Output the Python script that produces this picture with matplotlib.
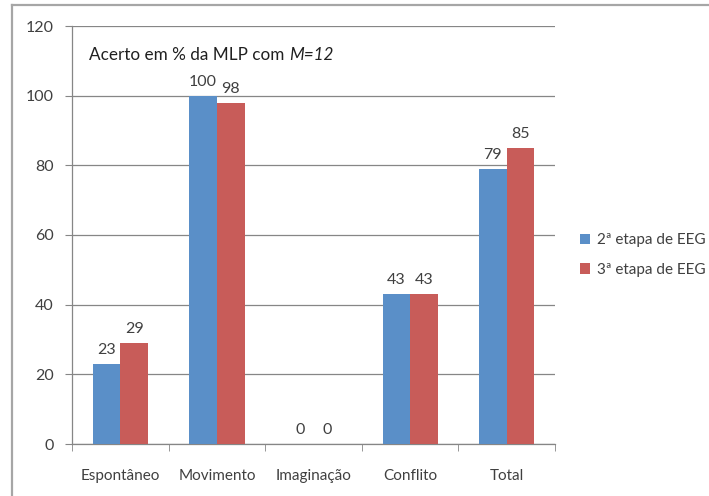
import numpy as np
import matplotlib
matplotlib.use("Agg")
import matplotlib.pyplot as plt
from matplotlib.lines import Line2D

plt.rcParams['font.family'] = ['Lato', 'DejaVu Sans']

# Dados
categorias = ['Espontâneo', 'Movimento', 'Imaginação', 'Conflito', 'Total']
etapa_2 = [23, 100, 0, 43, 79]
etapa_3 = [29, 98, 0, 43, 85]
series_nomes = ['2ª etapa de EEG', '3ª etapa de EEG']
y_ticks = [0, 20, 40, 60, 80, 100, 120]

azul = '#5A8FC8'
vermelho = '#C85C59'
cinza = '#868686'
texto = '#404040'

W, H = 709, 496
fig = plt.figure(figsize=(W / 100, H / 100), dpi=100)
ax = fig.add_axes([72 / W, 1 - 444 / H, (555 - 72) / W, (444 - 26) / H])

x = np.arange(len(categorias))
w = 1 / 3.5
b1 = ax.bar(x - w / 2, etapa_2, w, color=azul, label=series_nomes[0], zorder=3)
b2 = ax.bar(x + w / 2, etapa_3, w, color=vermelho, label=series_nomes[1], zorder=3)

# rotulos de valor
for barras, vals in ((b1, etapa_2), (b2, etapa_3)):
    for r, v in zip(barras, vals):
        ax.annotate(f'{v}', (r.get_x() + r.get_width() / 2, v), xytext=(0, 5),
                    textcoords='offset points', ha='center', va='bottom',
                    fontsize=11.5, color=texto)

ax.set_xlim(-0.5, len(categorias) - 0.5)
ax.set_ylim(0, 120)
ax.set_yticks(y_ticks)
ax.yaxis.grid(True, color=cinza, linewidth=0.9, zorder=0)
ax.set_axisbelow(True)

ax.set_xticks(x)
ax.set_xticklabels(categorias)
ax.set_xticks(np.arange(len(categorias) + 1) - 0.5, minor=True)
ax.tick_params(axis='x', which='major', length=0, pad=18, labelsize=11, labelcolor=texto)
ax.tick_params(axis='x', which='minor', length=5, color=cinza, direction='out')
ax.tick_params(axis='y', length=5, color=cinza, pad=8, labelsize=11.5, labelcolor=texto)

for s in ('top', 'right'):
    ax.spines[s].set_visible(False)
for s in ('left', 'bottom'):
    ax.spines[s].set_color(cinza)
    ax.spines[s].set_linewidth(0.9)

# titulo dentro do grafico
t1 = fig.text(89 / W, 1 - 63 / H, 'Acerto em % da MLP com ', fontsize=12.3,
              color='#202020', va='bottom', ha='left')
ax.annotate('M=12', xy=(1, 0), xycoords=t1, va='bottom', ha='left',
            fontsize=12.3, color='#202020', style='italic')

# legenda
fig.legend(handles=[b1, b2], labels=series_nomes, loc='center left',
           bbox_to_anchor=(566 / W, 1 - 255 / H), frameon=False,
           fontsize=11, handlelength=0.7, handleheight=0.7, handletextpad=0.4,
           labelspacing=1.0, labelcolor=texto)

# moldura
borda = '#A6A6A6'
fig.add_artist(Line2D([12 / W, 12 / W], [0, 1 - 5 / H], color=borda, lw=1.6))
fig.add_artist(Line2D([12 / W, 1], [1 - 5 / H, 1 - 5 / H], color=borda, lw=1.6))

fig.savefig('out.png', dpi=100, facecolor='white')
